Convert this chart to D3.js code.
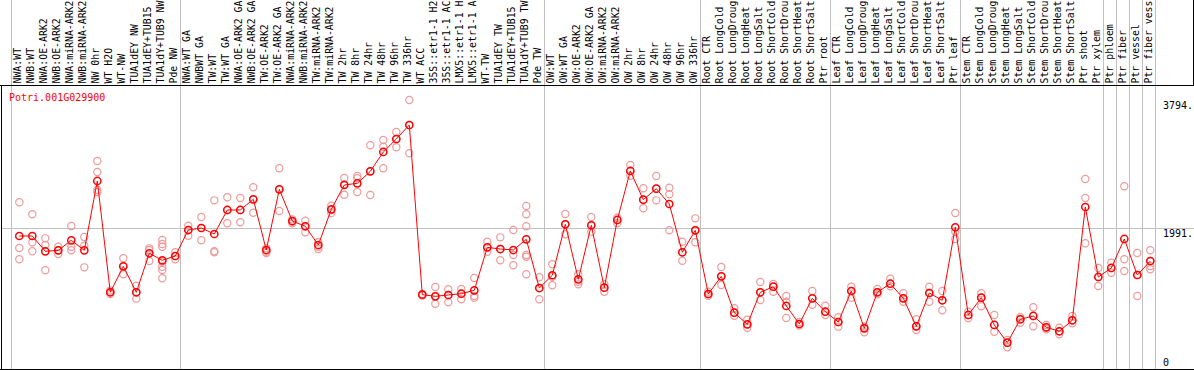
<!DOCTYPE html>
<html><head><meta charset="utf-8">
<script src="https://cdn.jsdelivr.net/npm/d3@7"></script>
<style>
html,body{margin:0;padding:0;background:#fff;}
svg{display:block;}
text{font-family:"DejaVu Sans Mono",monospace;font-size:10px;}
</style></head>
<body>
<script>
const title = "Potri.001G029900";

const categories = [
"NWA:WT","NWB:WT","NWA:OE-ARK2","NWB:OE-ARK2","NWA:miRNA-ARK2","NWB:miRNA-ARK2","NW 0hr","WT H2O","WT-NW","TUA1dEY NW","TUA1dEY+TUB15","TUA1dY+TUB9 NW","Pde NW",
"NWA:WT GA","NWBWT GA","TW:WT","TW:WT GA","NWA:OE-ARK2 GA","NWB:OE-ARK2 GA","TW:OE-ARK2","TW:OE-ARK2 GA","NWA:miRNA-ARK2","NWB:miRNA-ARK2","TW:miRNA-ARK2","TW:miRNA-ARK2","TW 2hr","TW 8hr","TW 24hr","TW 48hr","TW 96hr","TW 336hr","WT ACC","35S::etr1-1 H2","35S::etr1-1 AC","LMX5::etr1-1 H","LMX5::etr1-1 A","WT-TW","TUA1dEY TW","TUA1dEY+TUB15","TUA1dY+TUB9 TW","Pde TW",
"OW:WT","OW:WT GA","OW:OE-ARK2","OW:OE-ARK2 GA","OW:miRNA-ARK2","OW:miRNA-ARK2","OW 2hr","OW 8hr","OW 24hr","OW 48hr","OW 96hr","OW 336hr",
"Root CTR","Root LongCold","Root LongDroug","Root LongHeat","Root LongSalt","Root ShortCold","Root ShortDrou","Root ShortHeat","Root ShortSalt","Ptr root",
"Leaf CTR","Leaf LongCold","Leaf LongDroug","Leaf LongHeat","Leaf LongSalt","Leaf ShortCold","Leaf ShortDrou","Leaf ShortHeat","Leaf ShortSalt","Ptr leaf",
"Stem CTR","Stem LongCold","Stem LongDroug","Stem LongHeat","Stem LongSalt","Stem ShortCold","Stem ShortDrou","Stem ShortHeat","Stem ShortSalt","Ptr shoot","Ptr xylem",
"Ptr phloem","Ptr fiber","Ptr vessel","Ptr fiber vess"];

// index of first category of each group (separator lines), plus end
const groupStarts = [0,13,41,53,63,73,84,85,86,87,88];

const meanValues = [
1876,1876,1660,1674,1815,1674,2652,1082,1448,1082,1632,1533,1594,
1960,1989,1904,2243,2243,2393,1678,2534,2087,2013,1749,2252,2595,2619,2788,3061,3244,3441,1048,1025,1044,1062,1110,1716,1692,1678,1829,1142,
1322,2041,1265,2027,1147,2102,2793,2388,2543,2327,1646,1956,
1058,1307,794,630,1082,1161,889,635,997,808,
663,1100,574,1082,1203,997,602,1072,969,1999,
762,1006,621,371,701,748,588,532,687,2285,1298,
1425,1834,1326,1523];

const replicateValues = [
[2351,1707,1547],[2182,1787,1660],[1843,1749,1392],[1725,1674,1622],[2017,1725,1674],[1862,1739,1434],
[2934,2778,2525,2496],[1107,1082,1058],[1561,1448,1336],[1175,1082,992],[1702,1678,1523],
[1819,1763,1725,1513,1443,1396,1279],[1646,1594,1547],
[2021,1960,1880],[2144,1989,1815],[2379,1660,1646],[2422,2243,2055],[2412,2243,2069],[2563,2393,2204],
[1702,1654,1636],[2831,2534,2228],[2111,2077,2055],[2092,2013,1928],[1787,1725,1692],[2303,2243,2200],
[2694,2605,2458],[2722,2690,2496],[3155,2788,2454],[3230,3135,2831],[3343,3244,3127],[3794,3441,3042],
[1058,1048,1037],[1157,1025,921],[1124,1044,941],[1128,1062,983],[1283,1030,1006],[1795,1716,1654],
[1857,1692,1533],[1960,1608,1463],[2299,2182,2013,1608,1584,1336],[1293,1142,983],
[1477,1302,1181],[2186,2041,1900],[1336,1231,1195],[2144,2027,1937],[1195,1147,1090],[2134,2102,2055],
[2877,2793,2726],[2549,2388,2267],[2722,2543,2379],[2557,2464,1956],[1795,1646,1527],[2125,1956,1787],
[1090,1058,1034],[1439,1307,1185],[856,794,752],[695,630,582],[1227,1082,973],[1199,1161,1090],
[1030,949,719],[663,635,614],[1100,997,907],[893,808,762],
[729,663,597],[1161,1100,1006],[597,574,518],[1128,1082,1054],[1274,1203,1166],[1068,997,949],
[701,602,550],[1161,1072,949],[1100,969,828],[2200,1937,1834],
[808,762,715],[1068,1006,884],[762,621,526],[409,371,306],[729,701,653],[870,748,602],
[621,588,560],[582,532,489],[748,687,645],[2680,2412,1773],[1425,1298,1171],
[1499,1425,1358],[2577,1547,1382],[1636,1326,1030],[1674,1523,1453,1406]];

const tickValues = [3794, 1991, 0];
const tickLabels = ["3794.", "1991.", "0"];

const W = 1194, H = 370;
const svg = d3.select("body").append("svg").attr("width", W).attr("height", H);
svg.append("rect").attr("width", W).attr("height", H).attr("fill", "#fff");

const x = d3.scaleBand().domain(d3.range(categories.length)).range([11, 1155]).padding(0);
const y = d3.scaleLinear().domain([0, 3794]).range([369, 100]);
const px = i => x(i) + 8.3;
const bx = i => i >= categories.length ? x.range()[1] : x(i);

// vertical group separators
svg.append("g").selectAll("line").data(groupStarts).join("line")
  .attr("x1", d => bx(d) + 0.5).attr("x2", d => bx(d) + 0.5)
  .attr("y1", 0).attr("y2", 369)
  .attr("stroke", "#c0c0c0").attr("stroke-width", 1);

// horizontal gridline at middle tick
svg.append("line").attr("x1", 2).attr("x2", W).attr("y1", Math.round(y(1991)) + 0.5).attr("y2", Math.round(y(1991)) + 0.5)
  .attr("stroke", "#c0c0c0").attr("stroke-width", 1);

// frame
svg.append("line").attr("x1", 0).attr("x2", W).attr("y1", 85.5).attr("y2", 85.5).attr("stroke", "#000");
svg.append("line").attr("x1", 0).attr("x2", W).attr("y1", 369.5).attr("y2", 369.5).attr("stroke", "#000");
svg.append("line").attr("x1", 1.5).attr("x2", 1.5).attr("y1", 85).attr("y2", 370).attr("stroke", "#000");
svg.append("line").attr("x1", 1193.5).attr("x2", 1193.5).attr("y1", 0).attr("y2", 85).attr("stroke", "#000");

// category labels (rotated)
svg.append("g").selectAll("text").data(categories).join("text")
  .attr("transform", (d, i) => `translate(${x(i) + 9.8},83.5) rotate(-90)`)
  .attr("fill", "#000")
  .style("font-size", "9.85px")
  .text(d => d);

// right axis labels
svg.append("g").selectAll("text").data(tickValues).join("text")
  .attr("x", 1163)
  .attr("y", (d, i) => d === 0 ? y(d) - 3 : y(d) + 9)
  .attr("fill", "#000")
  .text((d, i) => tickLabels[i]);

// title
svg.append("text").attr("x", 9).attr("y", 101).attr("fill", "#ff0000").text(title);

// replicate circles
const reps = [];
replicateValues.forEach((arr, i) => arr.forEach(v => reps.push({i, v})));
svg.append("g").selectAll("circle").data(reps).join("circle")
  .attr("cx", d => px(d.i)).attr("cy", d => y(d.v)).attr("r", 3.6)
  .attr("fill", "none").attr("stroke", "#ee9a9a").attr("stroke-width", 1.2);

// mean line
svg.append("path").datum(meanValues)
  .attr("d", d3.line().x((d, i) => px(i)).y(d => y(d)))
  .attr("fill", "none").attr("stroke", "#ff0000").attr("stroke-width", 1);

// mean circles
svg.append("g").selectAll("circle").data(meanValues).join("circle")
  .attr("cx", (d, i) => px(i)).attr("cy", d => y(d)).attr("r", 3.6)
  .attr("fill", "none").attr("stroke", "#ff0000").attr("stroke-width", 1.5);
</script>
</body></html>
